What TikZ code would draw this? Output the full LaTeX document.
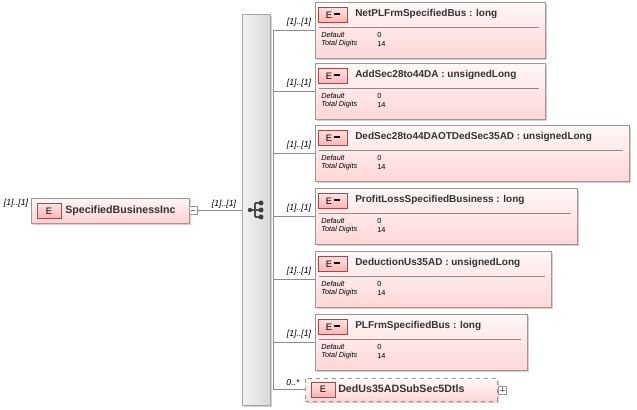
\documentclass[tikz,border=0pt]{standalone}
\usepackage{fontspec}
\setmainfont{Liberation Sans}
\begin{document}
\begin{tikzpicture}[x=0.75pt,y=-0.75pt,
  lbl/.style={font=\fontsize{6.5}{7}\selectfont\itshape,inner sep=0pt},
  ttl/.style={font=\fontsize{7.5}{8}\selectfont\bfseries,anchor=west,inner sep=0pt,text=black!80},
  sm/.style={font=\fontsize{5.5}{6}\selectfont,anchor=west,inner sep=0pt},
  badge/.style={draw=red!45!black!70,top color=red!12,bottom color=red!30,minimum width=18pt,minimum height=11pt,inner sep=0pt,font=\fontsize{7}{7}\selectfont},
  conn/.style={draw=black!45,line width=0.5pt}]
\useasboundingbox (0,0) rectangle (637,410);
% root
\fill[black!18] (33,200) rectangle (191,225);
\node[draw=black!40,top color=red!4,bottom color=red!18,minimum width=118.5pt,minimum height=18.75pt,inner sep=0pt,anchor=north west] (root) at (31,198) {};
\node[badge] (rb) at (49,211) {E};
\node[ttl,font=\fontsize{8}{8}\selectfont\bfseries] at (65,211) {SpecifiedBusinessInc};
\node[lbl] at (16,203) {[1]..[1]};
\node[draw=black!40,fill=white,minimum size=6pt,inner sep=0pt] (rm) at (193,210) {};
\draw[black!50] (191,210)--(195,210);
% sequence
\fill[black!18] (244,16) rectangle (272,407);
\node[draw=black!35,left color=black!5,right color=black!15,minimum width=21pt,minimum height=293pt,inner sep=0pt,anchor=north west] (seq) at (242,14) {};
\draw[conn] (rm.east) -- (242,210);
\node[lbl] at (224,204) {[1]..[1]};
% icon
\draw[black!70,line width=0.8pt] (250,210)--(255,210) (255,203)--(255,217) (255,203)--(261,203) (255,210)--(261,210) (255,217)--(261,217);
\fill[black!75] (250,210) circle [radius=2.2] (261,203) circle [radius=2.5] (261,210) circle [radius=2.5] (261,217) circle [radius=2.5];
\draw[conn] (273,30) -- (273,389);
% children
\foreach \n/\y/\w/\t in {a/2/545/NetPLFrmSpecifiedBus : long,
  b/63/545/AddSec28to44DA : unsignedLong,
  c/125/629/DedSec28to44DAOTDedSec35AD : unsignedLong,
  d/188/577/ProfitLossSpecifiedBusiness : long,
  e/251/551/DeductionUs35AD : unsignedLong,
  f/314/527/PLFrmSpecifiedBus : long}{
  \fill[black!18] (317,\y+2) rectangle (\w+2,\y+58);
  \node[draw=black!40,top color=red!3,bottom color=red!16,anchor=north west,minimum width={(\w-315)*0.75pt},minimum height=42pt,inner sep=0pt] (\n) at (315,\y) {};
  \node[badge,minimum width=22pt] at (333,\y+13) {E\,\rule[0.6ex]{5pt}{1.5pt}};
  \node[ttl] at (355,\y+12) {\t};
  \draw[black!45] (319,\y+25) -- (\w-6,\y+25);
  \node[sm,font=\fontsize{5.5}{6}\selectfont\itshape] at (321,\y+33) {Default};
  \node[sm,font=\fontsize{5.5}{6}\selectfont\itshape] at (321,\y+42) {Total Digits};
  \node[sm] at (377,\y+33) {0};
  \node[sm] at (377,\y+42) {14};
  \draw[conn] (273,\y+28) -- (\n.west|-{(0,\y+28)});
  \node[lbl] at (299,\y+20) {[1]..[1]};
}
% last
\fill[black!18] (307,380) rectangle (499,403);
\node[draw=black!40,dashed,top color=red!3,bottom color=red!16,anchor=north west,minimum width=144pt,minimum height=17.25pt,inner sep=0pt] (g) at (305,378) {};
\node[badge] at (323,389.5) {E};
\node[ttl,font=\fontsize{8}{8}\selectfont\bfseries] at (338,389) {DedUs35ADSubSec5Dtls};
\node[draw=black!40,fill=white,minimum size=6pt,inner sep=0pt] at (502,390) {};
\draw[black!50] (499.5,390)--(504.5,390) (502,387.5)--(502,392.5);
\draw[conn] (273,389) -- (g.west|-{(0,389)});
\node[lbl] at (293,383) {0..*};
\end{tikzpicture}
\end{document}
